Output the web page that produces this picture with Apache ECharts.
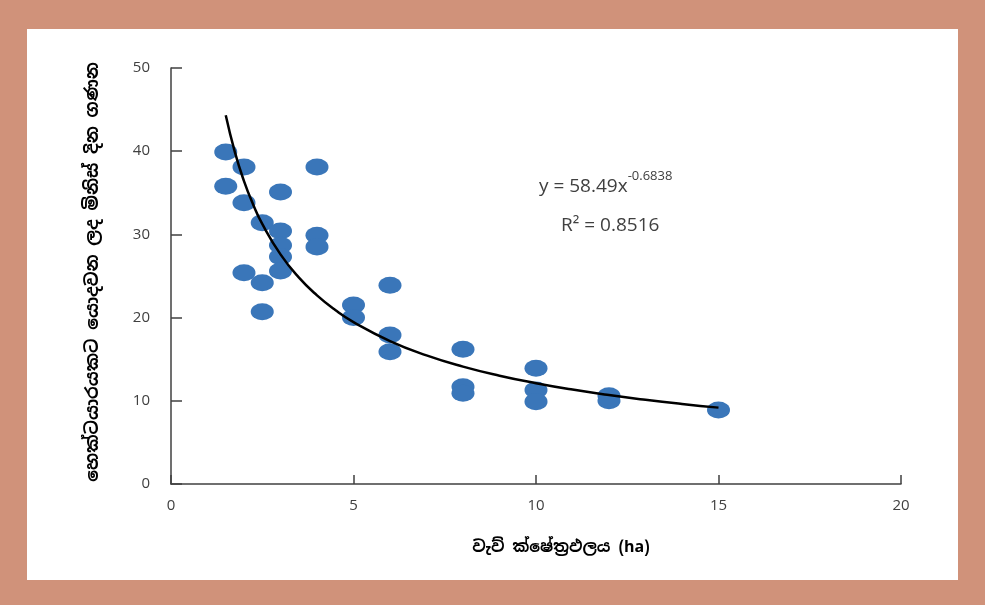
<!DOCTYPE html>
<html>
<head>
<meta charset="utf-8">
<script src="https://cdn.jsdelivr.net/npm/echarts@6/dist/echarts.min.js"></script>
<style>
  html, body { margin: 0; padding: 0; background: #D0927A; }
  #frame { position: absolute; left: 27px; top: 29px; width: 931px; height: 551px; background: #ffffff; }
  #chart { position: absolute; left: 0; top: 0; width: 985px; height: 605px; }
</style>
</head>
<body>
<div id="frame"></div>
<div id="chart"></div>
<script>
// Tank area (ha)
const areaValues = [1.5, 1.5, 2, 2, 2, 2.5, 2.5, 2.5, 3, 3, 3, 3, 3, 4, 4, 4, 5, 5, 6, 6, 6, 8, 8, 8, 10, 10, 10, 12, 12, 15];
// Labour days per hectare
const daysValues = [39.9, 35.8, 38.1, 33.8, 25.4, 31.4, 24.2, 20.7, 35.1, 30.4, 28.7, 27.3, 25.6, 38.1, 29.9, 28.5, 21.5, 20.0, 23.9, 17.9, 15.9, 16.2, 11.7, 10.9, 13.9, 11.3, 9.9, 10.6, 10.0, 8.9];
// Power trendline y = 58.49 x^-0.6838
const trendX = [1.5, 1.75, 2, 2.25, 2.5, 3, 3.5, 4, 4.5, 5, 6, 7, 8, 9, 10, 11, 12, 13, 14, 15];
const trendY = [44.32, 39.89, 36.41, 33.60, 31.26, 27.60, 24.83, 22.67, 20.91, 19.46, 17.18, 15.46, 14.11, 13.02, 12.12, 11.35, 10.69, 10.12, 9.62, 9.18];
const xTicks = [0, 5, 10, 15, 20];
const yTicks = [0, 10, 20, 30, 40, 50];
const equationText = 'y = 58.49x';
const equationExp = '-0.6838';
const r2Text = 'R² = 0.8516';
const xTitle = 'වැව් ක්ෂේත්‍රඵලය (ha)';
const yTitle = 'හෙක්ටයාරයකට යොදවන ලද මිනිස් දින ගණන';

const chart = echarts.init(document.getElementById('chart'), null, { renderer: 'canvas' });
const labelColor = '#404040';
const sinhalaFont = '"Noto Sans Sinhala", "Noto Sans", "DejaVu Sans", sans-serif';

chart.setOption({
  backgroundColor: 'transparent',
  animation: false,
  grid: { left: 171, right: 84, top: 68, bottom: 121, containLabel: false },
  xAxis: {
    type: 'value', min: xTicks[0], max: xTicks[xTicks.length - 1], interval: 5,
    axisLine: { show: true, lineStyle: { color: '#404040', width: 1.5 } },
    axisTick: { show: true, inside: true, length: 9, lineStyle: { color: '#404040', width: 1.5 } },
    axisLabel: { color: labelColor, fontSize: 15, margin: 14, fontFamily: '"Open Sans", sans-serif' },
    splitLine: { show: false }
  },
  yAxis: {
    type: 'value', min: yTicks[0], max: yTicks[yTicks.length - 1], interval: 10,
    axisLine: { show: true, lineStyle: { color: '#404040', width: 1.5 } },
    axisTick: { show: true, inside: true, length: 11, lineStyle: { color: '#404040', width: 1.5 } },
    axisLabel: { color: labelColor, fontSize: 15, margin: 21, fontFamily: '"Open Sans", sans-serif' },
    splitLine: { show: false }
  },
  series: [
    {
      type: 'scatter',
      data: areaValues.map((x, i) => [x, daysValues[i]]),
      symbol: 'circle',
      symbolSize: [23, 17],
      itemStyle: { color: '#3A76B9', opacity: 1 },
      z: 2
    },
    {
      type: 'line',
      data: trendX.map((x, i) => [x, trendY[i]]),
      smooth: true,
      showSymbol: false,
      symbol: 'none',
      lineStyle: { color: '#000000', width: 2.5 },
      z: 3
    }
  ],
  graphic: [
    {
      type: 'text', left: 539, top: 170,
      style: {
        text: '{b|' + equationText + '}{s|' + equationExp + '}',
        rich: {
          b: { fontSize: 19, fill: '#404040', fontFamily: '"Open Sans", sans-serif', verticalAlign: 'bottom', lineHeight: 26 },
          s: { fontSize: 13, fill: '#404040', fontFamily: '"Open Sans", sans-serif', verticalAlign: 'top', lineHeight: 26, padding: [0, 0, 12, 0] }
        }
      }
    },
    {
      type: 'text', left: 561, top: 216,
      style: { text: r2Text, fontSize: 19, fill: '#404040', fontFamily: '"Open Sans", sans-serif' }
    },
    {
      type: 'text', x: 561, y: 548,
      style: { text: xTitle, fontSize: 16, fontWeight: 'bold', fill: '#000000', fontFamily: sinhalaFont, align: 'center', verticalAlign: 'middle' }
    },
    {
      type: 'text', x: 93, y: 272, rotation: Math.PI / 2,
      style: { text: yTitle, fontSize: 17.5, fontWeight: 'bold', fill: '#000000', fontFamily: sinhalaFont, align: 'center', verticalAlign: 'middle' }
    }
  ]
});
</script>
</body>
</html>
